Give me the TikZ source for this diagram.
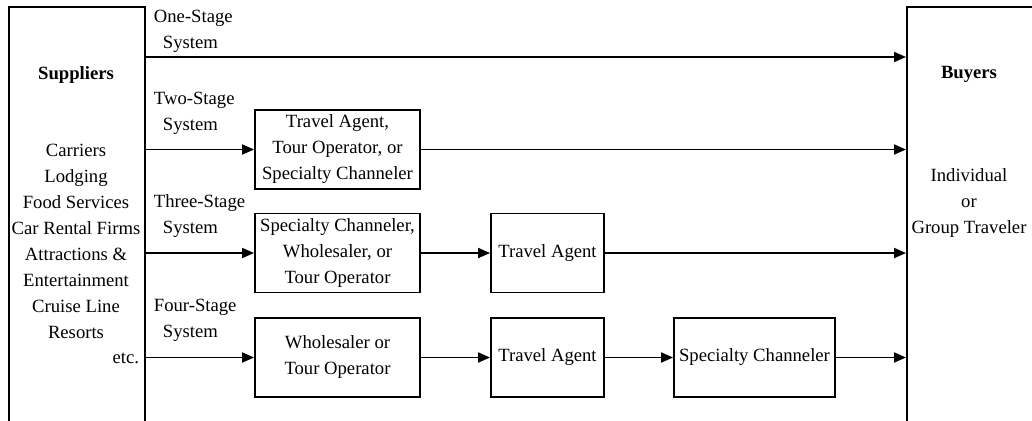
\documentclass[tikz,border=0pt]{standalone}
\usepackage{fontspec}
\setmainfont{Liberation Serif}
\usetikzlibrary{positioning}
\usetikzlibrary{arrows.meta}
\tikzset{flow/.style = {-{Triangle[length=9pt,width=7.5pt]}}}
\tikzset{stagebox/.style = {draw, align=center, inner sep=0pt,
                            minimum width=123.75pt, minimum height=59.25pt}}
\tikzset{agentbox/.style = {stagebox, minimum width=84.75pt}}
\tikzset{stagelabel/.style = {align=left, anchor=west, inner sep=0pt}}
\tikzset{sidebox/.style = {draw, anchor=north west, minimum height=330pt}}
\tikzset{
  every picture/.style={
    line width=1.4pt,
    every node/.style={font=\fontsize{14pt}{19.5pt}\selectfont},
  }
}

\begin{document}
\begin{tikzpicture}[x=0.75pt,y=-0.75pt]
          \useasboundingbox (0,0) rectangle (1032,421);
          \clip (0,0) rectangle (1032,421);
          % suppliers and buyers, cut off at the bottom
          \node[sidebox, minimum width=102pt] (sup) at (8,6) {};
          \node[sidebox, minimum width=150pt] (buy) at (906,6) {};
          \node (supT) at (76,75) {\textbf{Suppliers}};
          \node (buyT) at (969,74) {\textbf{Buyers}};
          \node[align=center] (supL) at (76,241)
            {Carriers\\Lodging\\Food Services\\Car Rental Firms\\
             Attractions \&\\Entertainment\\Cruise Line\\Resorts};
          \node[anchor=east, inner sep=0pt] (etc) at (140,358) {etc.};
          \node[align=center] (buyL) at (969,203)
            {Individual\\or\\Group Traveler};
          % stage labels
          \node[stagelabel] (l1) at (153,31.5) {One-Stage\\\hspace*{6.75pt}System};
          \node[stagelabel] (l2) at (153,113) {Two-Stage\\\hspace*{6.75pt}System};
          \node[stagelabel] (l3) at (153,216.5) {Three-Stage\\\hspace*{6.75pt}System};
          \node[stagelabel] (l4) at (153,320.5) {Four-Stage\\\hspace*{6.75pt}System};
          % channels
          \node[stagebox] (b2) at (337.5,149.5)
            {Travel Agent,\\Tour Operator, or\\Specialty Channeler};
          \node[stagebox] (b3) at (337.5,253)
            {Specialty Channeler,\\Wholesaler, or\\Tour Operator};
          \node[agentbox] (a3) at (547.5,253) {Travel Agent};
          \node[stagebox] (b4) at (337.5,357.5)
            {Wholesaler or\\Tour Operator};
          \node[agentbox] (a4) at (547.5,357.5) {Travel Agent};
          \node[stagebox, minimum width=120.75pt] (s4) at (754.5,357.5)
            {Specialty Channeler};
          \coordinate (r1) at (500,57);
          \draw[flow] (sup.east |- r1) -- (buy.west |- r1);
          \draw[flow] (sup.east |- b2) -- (b2.west);
          \draw[flow] (b2.east) -- (buy.west |- b2);
          \draw[flow] (sup.east |- b3) -- (b3.west);
          \draw[flow] (b3.east) -- (a3.west);
          \draw[flow] (a3.east) -- (buy.west |- a3);
          \draw[flow] (sup.east |- b4) -- (b4.west);
          \draw[flow] (b4.east) -- (a4.west);
          \draw[flow] (a4.east) -- (s4.west);
          \draw[flow] (s4.east) -- (buy.west |- s4);
        \end{tikzpicture}
\end{document}
